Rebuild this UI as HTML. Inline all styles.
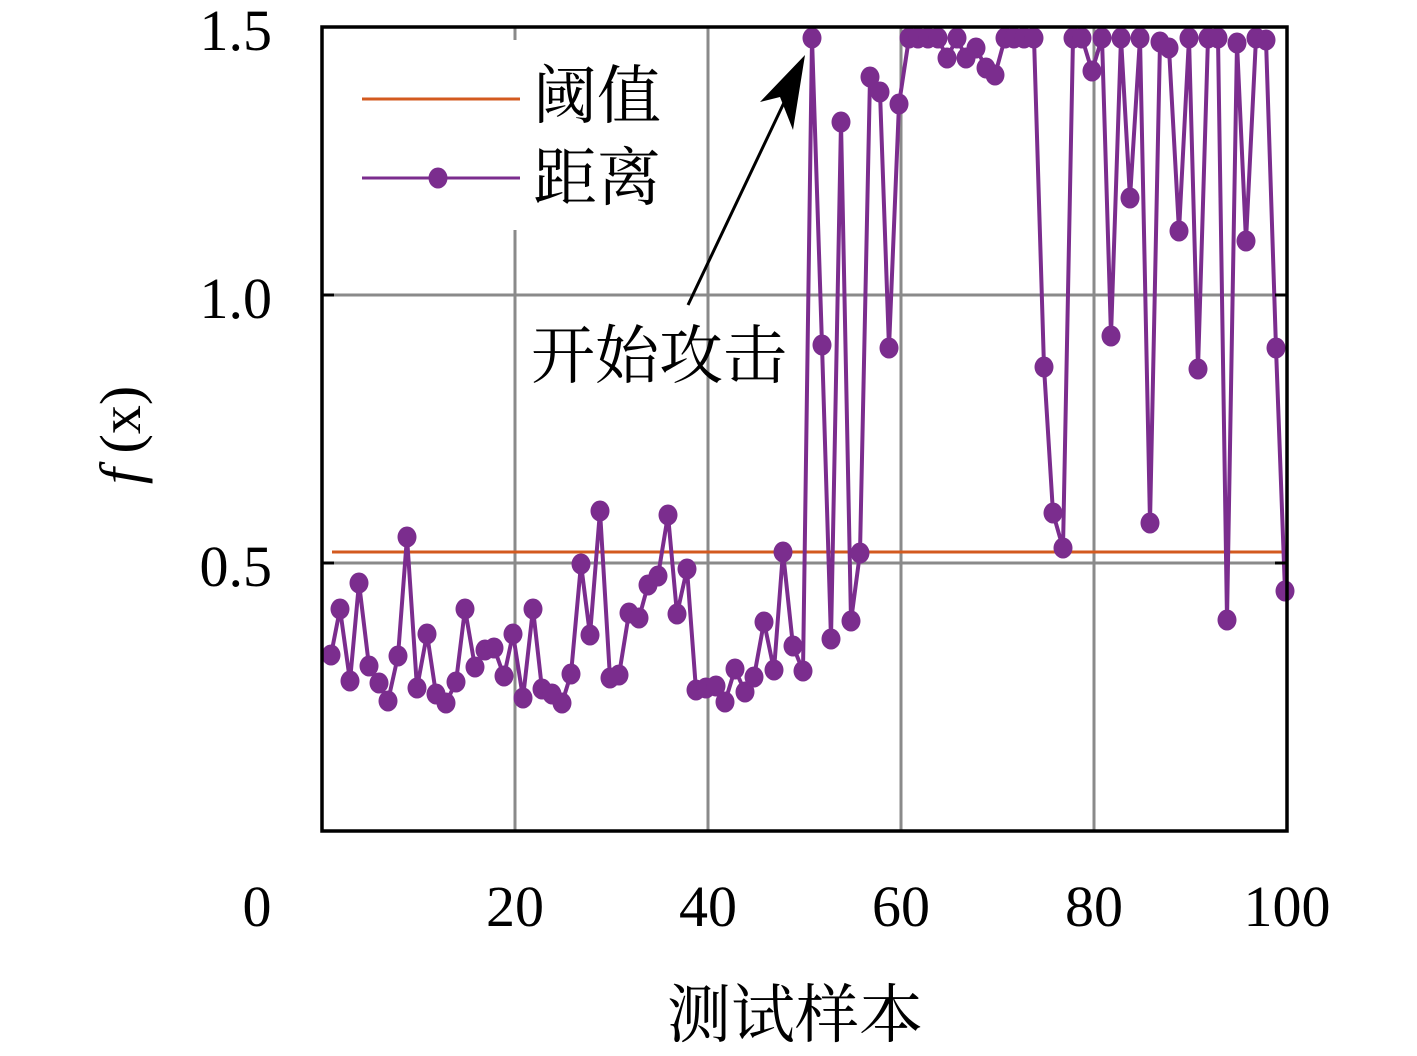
<!DOCTYPE html><html><head><meta charset="utf-8"><style>body{margin:0;background:#fff}</style></head><body>
<svg width="1417" height="1051" viewBox="0 0 1417 1051" xmlns="http://www.w3.org/2000/svg">
<defs>
<marker id="dot" markerUnits="userSpaceOnUse" markerWidth="24" markerHeight="26" refX="12" refY="13" viewBox="0 0 24 26" overflow="visible">
<ellipse cx="12" cy="13" rx="9.5" ry="10.5" fill="#7b2d8e"/>
</marker>
</defs>
<g stroke="#8a8a8a" stroke-width="3">
<line x1="515" y1="27" x2="515" y2="831"/><line x1="708" y1="27" x2="708" y2="831"/><line x1="901" y1="27" x2="901" y2="831"/><line x1="1094" y1="27" x2="1094" y2="831"/>
<line x1="322" y1="295" x2="1287" y2="295"/><line x1="322" y1="563" x2="1287" y2="563"/>
</g>
<rect x="335" y="40" width="340" height="190" fill="#fff"/>
<line x1="332" y1="552" x2="1287" y2="552" stroke="#d35a1f" stroke-width="3"/>
<polyline fill="none" stroke="#7b2d8e" stroke-width="4" marker-start="url(#dot)" marker-mid="url(#dot)" marker-end="url(#dot)" points="331,655 340,609 350,681 359,583 369,666 379,683 388,701 398,656 407,537 417,688 427,634 436,694 446,703 456,682 465,609 475,667 485,650 494,648 504,676 513,634 523,698 533,609 542,689 552,694 562,703 571,674 581,564 590,635 600,511 610,678 619,675 629,613 639,618 648,585 658,576 668,515 677,614 687,569 696,690 706,688 716,686 725,702 735,669 745,692 754,677 764,622 774,670 783,552 793,646 803,671 812,38 822,345 831,639 841,122 851,621 860,553 870,77 880,92 889,348 899,104 909,38 918,38 928,38 938,38 947,58 957,38 966,58 976,48 986,68 995,75 1005,38 1014,38 1024,38 1034,38 1044,367 1053,513 1063,548 1073,38 1082,38 1092,71 1102,38 1111,336 1121,38 1130,198 1140,38 1150,523 1160,42 1169,48 1179,231 1189,38 1198,369 1208,38 1218,38 1227,620 1237,43 1246,241 1256,38 1266,40 1276,348 1285,591"/>
<rect x="322" y="27" width="965" height="804" fill="none" stroke="#000" stroke-width="3.5"/>
<g stroke="#000" stroke-width="3">
<line x1="322" y1="295" x2="334" y2="295"/><line x1="322" y1="563" x2="334" y2="563"/><line x1="1275" y1="295" x2="1287" y2="295"/><line x1="1275" y1="563" x2="1287" y2="563"/>
</g>
<line x1="362" y1="99" x2="520" y2="99" stroke="#d35a1f" stroke-width="3"/>
<line x1="362" y1="178" x2="520" y2="178" stroke="#7b2d8e" stroke-width="3"/>
<ellipse cx="438" cy="178" rx="9.5" ry="10.5" fill="#7b2d8e"/>
<g font-family="'Noto Serif CJK SC','Noto Sans CJK SC',serif" font-size="64" fill="#000">
<text x="533" y="118">阈值</text><text x="533" y="200">距离</text>
<text x="531" y="378">开始攻击</text>
<text x="795" y="1037" text-anchor="middle">测试样本</text>
</g>
<line x1="688" y1="305" x2="790" y2="90" stroke="#000" stroke-width="3"/>
<polygon points="805,55 760,102 780,97 793,130" fill="#000"/>
<g font-family="'Liberation Serif',serif" font-size="58" fill="#000">
<text x="272" y="50" text-anchor="end">1.5</text><text x="272" y="318" text-anchor="end">1.0</text><text x="272" y="586" text-anchor="end">0.5</text>
<text x="257" y="926" text-anchor="middle">0</text><text x="515" y="926" text-anchor="middle">20</text><text x="708" y="926" text-anchor="middle">40</text><text x="901" y="926" text-anchor="middle">60</text><text x="1094" y="926" text-anchor="middle">80</text><text x="1287" y="926" text-anchor="middle">100</text>
<text transform="translate(140,435) rotate(-90)" text-anchor="middle"><tspan font-style="italic">f</tspan> (x)</text>
</g>
</svg>
</body></html>
